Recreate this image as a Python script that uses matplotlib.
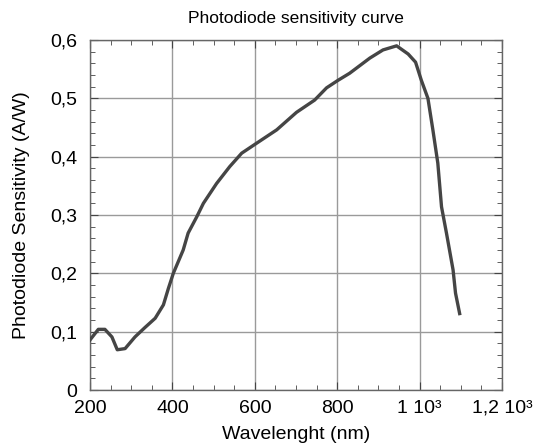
import matplotlib
matplotlib.use("Agg")
import matplotlib.pyplot as plt
from matplotlib.ticker import MultipleLocator, FuncFormatter

plt.rcParams["font.family"] = ["Liberation Sans", "DejaVu Sans"]

# wavelength (nm) and sensitivity (A/W)
wavelength = [200, 220, 236, 253, 266, 285, 309, 333, 358, 378, 390, 402,
              426, 438, 459, 475, 507, 539, 568, 604, 653, 701, 745, 774,
              802, 830, 879, 911, 944, 972, 990, 1004, 1020, 1032, 1044,
              1053, 1065, 1081, 1087, 1097]
sensitivity = [0.086, 0.104, 0.104, 0.091, 0.069, 0.071, 0.091, 0.107, 0.123,
               0.146, 0.174, 0.200, 0.240, 0.269, 0.297, 0.320, 0.354, 0.383,
               0.406, 0.423, 0.446, 0.476, 0.497, 0.518, 0.531, 0.543, 0.569,
               0.583, 0.590, 0.576, 0.562, 0.531, 0.500, 0.446, 0.389, 0.314,
               0.269, 0.206, 0.166, 0.131]

x_ticks = [200, 400, 600, 800, 1000, 1200]
x_tick_labels = ["200", "400", "600", "800", "1 10\u00b3", "1,2 10\u00b3"]

fig = plt.figure(figsize=(5.33, 4.44), dpi=100)
ax = fig.add_axes([0.169, 0.1216, 0.773, 0.7883])

ax.plot(wavelength, sensitivity, color="#454545", linewidth=2.4, zorder=3)

ax.set_xlim(200, 1200)
ax.set_ylim(0, 0.6)
ax.set_xticks(x_ticks)
ax.set_xticklabels(x_tick_labels)
ax.xaxis.set_minor_locator(MultipleLocator(50))
ax.yaxis.set_major_locator(MultipleLocator(0.1))
ax.yaxis.set_minor_locator(MultipleLocator(0.02))
ax.yaxis.set_major_formatter(
    FuncFormatter(lambda v, _: "0" if abs(v) < 1e-9 else f"{v:.1f}".replace(".", ","))
)

ax.grid(which="major", color="#9a9a9a", linewidth=1.0)
ax.set_axisbelow(True)
for s in ax.spines.values():
    s.set_color("#666666")
    s.set_linewidth(1.0)

ax.tick_params(which="both", direction="in", top=True, right=True,
               color="#444444", labelsize=14)
ax.tick_params(axis="y", pad=9)
ax.tick_params(axis="x", pad=7)
ax.tick_params(which="major", length=6)
ax.tick_params(which="minor", length=3.5)

ax.set_title("Photodiode sensitivity curve", fontsize=12.5, pad=12)
ax.set_xlabel("Wavelenght (nm)", fontsize=14, labelpad=7)
ax.set_ylabel("Photodiode Sensitivity (A/W)", fontsize=14, labelpad=15)

fig.savefig("out.png", dpi=100)
